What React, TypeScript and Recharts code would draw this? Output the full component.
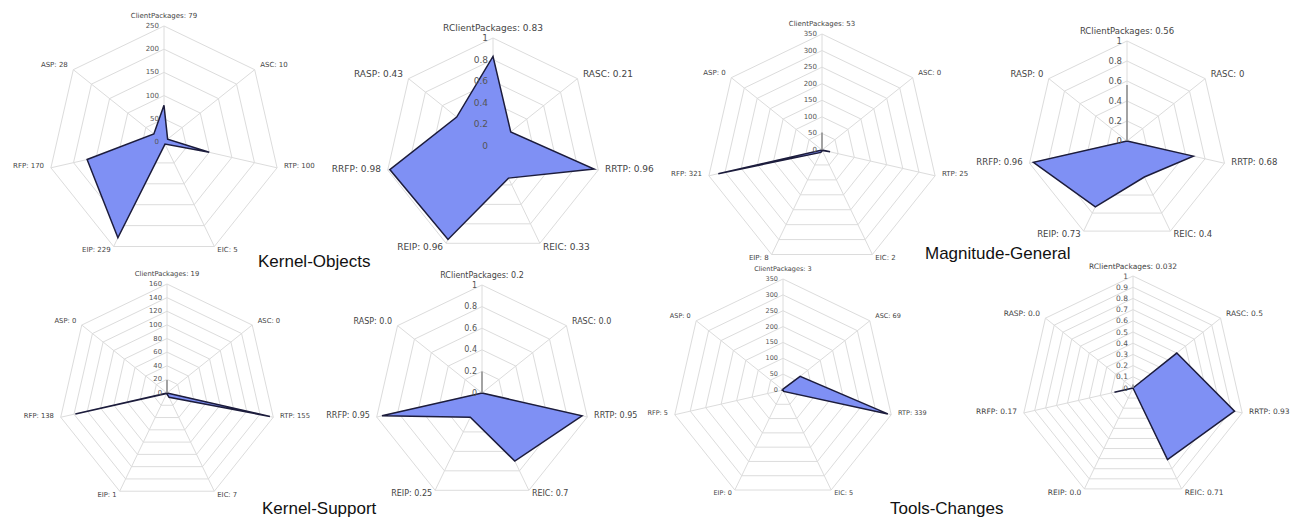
import { RadarChart, Radar, PolarGrid, PolarAngleAxis, PolarRadiusAxis } from 'recharts';

// axis names, clockwise from the top
const absAxes = ['ClientPackages', 'ASC', 'RTP', 'EIC', 'EIP', 'RFP', 'ASP'];
const relAxes = ['RClientPackages', 'RASC', 'RRTP', 'REIC', 'REIP', 'RRFP', 'RASP'];

// Kernel-Objects
const koAbsValues = [79, 10, 100, 5, 229, 170, 28];
const koAbsLabels = ['79', '10', '100', '5', '229', '170', '28'];
const koAbsTicks = [0, 50, 100, 150, 200, 250];
const koRelValues = [0.83, 0.21, 0.96, 0.33, 0.96, 0.98, 0.43];
const koRelLabels = ['0.83', '0.21', '0.96', '0.33', '0.96', '0.98', '0.43'];

// Magnitude-General
const mgAbsValues = [0, 0, 25, 2, 8, 321, 0];
const mgAbsSpike = [53, 0, 0, 0, 0, 0, 0];
const mgAbsLabels = ['53', '0', '25', '2', '8', '321', '0'];
const mgAbsTicks = [0, 50, 100, 150, 200, 250, 300, 350];
const mgRelValues = [0, 0, 0.68, 0.4, 0.73, 0.96, 0];
const mgRelSpike = [0.56, 0, 0, 0, 0, 0, 0];
const mgRelLabels = ['0.56', '0', '0.68', '0.4', '0.73', '0.96', '0'];

// Kernel-Support
const ksAbsValues = [0, 0, 155, 7, 1, 138, 0];
const ksAbsSpike = [19, 0, 0, 0, 0, 0, 0];
const ksAbsLabels = ['19', '0', '155', '7', '1', '138', '0'];
const ksAbsTicks = [0, 20, 40, 60, 80, 100, 120, 140, 160];
const ksRelValues = [0, 0, 0.95, 0.7, 0.25, 0.95, 0];
const ksRelSpike = [0.2, 0, 0, 0, 0, 0, 0];
const ksRelLabels = ['0.2', '0.0', '0.95', '0.7', '0.25', '0.95', '0.0'];

// Tools-Changes
const tcAbsValues = [3, 69, 339, 5, 0, 5, 0];
const tcAbsLabels = ['3', '69', '339', '5', '0', '5', '0'];
const tcAbsTicks = [0, 50, 100, 150, 200, 250, 300, 350];
const tcRelValues = [0, 0.5, 0.93, 0.71, 0, 0.17, 0];
const tcRelSpike = [0.032, 0, 0, 0, 0, 0, 0];
const tcRelLabels = ['0.032', '0.5', '0.93', '0.71', '0.0', '0.17', '0.0'];

const relTicks = [0, 0.2, 0.4, 0.6, 0.8, 1];
const relTicksFine = [0, 0.1, 0.2, 0.3, 0.4, 0.5, 0.6, 0.7, 0.8, 0.9, 1];

const BOX_W = 420;
const BOX_H = 290;
const FONT = 'DejaVu Sans, Verdana, sans-serif';

interface PanelProps {
  cx: number;
  cy: number;
  r: number;
  axes: string[];
  values: number[];
  labels: string[];
  spike?: number[];
  ticks: number[];
  fontSize: number;
}

function RadarPanel({ cx, cy, r, axes, values, labels, spike, ticks, fontSize }: PanelProps) {
  const data = axes.map((name, i) => ({
    name,
    v: values[i],
    s: spike ? spike[i] : 0,
  }));
  const max = ticks[ticks.length - 1];

  // axis name labels, centred on their anchor point
  const angleTick = (props: any) => {
    const { x, y, textAnchor, payload, index } = props;
    const dy = index === 1 || index === 6 ? 0 : -3;
    return (
      <text x={x} y={y + dy} textAnchor={textAnchor} dominantBaseline="central" fontSize={fontSize} fill="#444" fontFamily={FONT}>
        {`${payload.value}: ${labels[index]}`}
      </text>
    );
  };

  const radiusTick = (props: any) => {
    const { x, y, payload } = props;
    return (
      <text x={x - 5} y={y} textAnchor="end" dominantBaseline="central" fontSize={fontSize} fill="#555" fontFamily={FONT}>
        {payload.value}
      </text>
    );
  };

  return (
    <div style={{ position: 'absolute', left: cx - BOX_W / 2, top: cy - BOX_H / 2 }}>
      <RadarChart width={BOX_W} height={BOX_H} cx={BOX_W / 2} cy={BOX_H / 2} outerRadius={r} data={data}>
        <PolarGrid stroke="#dcdcdc" />
        <PolarAngleAxis dataKey="name" axisLine={false} tickLine={false} tickSize={7} tick={angleTick} />
        <PolarRadiusAxis
          angle={90}
          type="number"
          domain={[0, max]}
          ticks={ticks}
          tickCount={ticks.length}
          axisLine={false}
          tickLine={false}
          tick={radiusTick}
        />
        <Radar
          dataKey="v"
          fill="#7f90f4"
          fillOpacity={1}
          stroke="#1c1c3c"
          strokeWidth={1.5}
          isAnimationActive={false}
        />
        {spike && (
          <Radar dataKey="s" fill="none" fillOpacity={0} stroke="#8a8a8a" strokeWidth={1.5} isAnimationActive={false} />
        )}
      </RadarChart>
    </div>
  );
}

const titleStyle: React.CSSProperties = {
  position: 'absolute',
  fontFamily: 'Liberation Sans, Arial, sans-serif',
  fontSize: 17,
  color: '#111',
  whiteSpace: 'nowrap',
};

export default function App() {
  return (
    <div style={{ position: 'fixed', left: 0, top: 0, width: 1296, height: 523, background: '#fff', overflow: 'hidden' }}>
      <RadarPanel cx={164} cy={142} r={116} axes={absAxes} values={koAbsValues} labels={koAbsLabels} ticks={koAbsTicks} fontSize={7} />
      <RadarPanel cx={493} cy={146} r={108} axes={relAxes} values={koRelValues} labels={koRelLabels} ticks={relTicks} fontSize={9} />
      <RadarPanel cx={822} cy={150} r={116} axes={absAxes} values={mgAbsValues} spike={mgAbsSpike} labels={mgAbsLabels} ticks={mgAbsTicks} fontSize={7} />
      <RadarPanel cx={1127} cy={141} r={100} axes={relAxes} values={mgRelValues} spike={mgRelSpike} labels={mgRelLabels} ticks={relTicks} fontSize={8.5} />

      <RadarPanel cx={167} cy={393} r={109} axes={absAxes} values={ksAbsValues} spike={ksAbsSpike} labels={ksAbsLabels} ticks={ksAbsTicks} fontSize={6.8} />
      <RadarPanel cx={482} cy={393} r={108} axes={relAxes} values={ksRelValues} spike={ksRelSpike} labels={ksRelLabels} ticks={relTicks} fontSize={8} />
      <RadarPanel cx={783} cy={390} r={111} axes={absAxes} values={tcAbsValues} labels={tcAbsLabels} ticks={tcAbsTicks} fontSize={6.5} />
      <RadarPanel cx={1133} cy={388} r={112} axes={relAxes} values={tcRelValues} spike={tcRelSpike} labels={tcRelLabels} ticks={relTicksFine} fontSize={7.5} />

      <div style={{ ...titleStyle, left: 258, top: 252 }}>Kernel-Objects</div>
      <div style={{ ...titleStyle, left: 925, top: 244 }}>Magnitude-General</div>
      <div style={{ ...titleStyle, left: 262, top: 499 }}>Kernel-Support</div>
      <div style={{ ...titleStyle, left: 890, top: 499 }}>Tools-Changes</div>
    </div>
  );
}
